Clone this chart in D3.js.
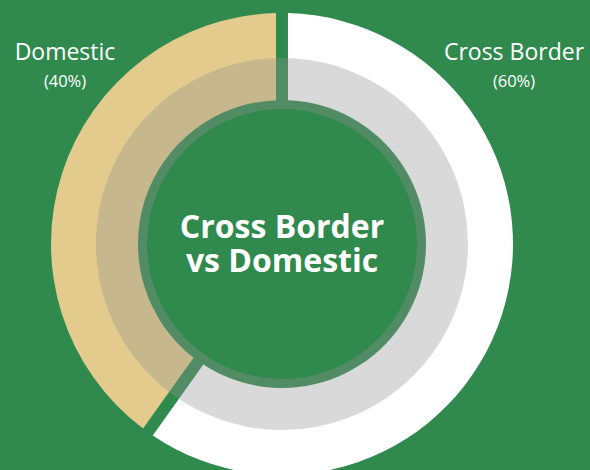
<!DOCTYPE html>
<html>
<head>
<meta charset="utf-8">
<script src="https://d3js.org/d3.v7.min.js"></script>
<style>
  body { margin: 0; background: #308a4e; font-family: "Open Sans", sans-serif; }
  .lbl { fill: white; text-anchor: middle; }
  .title { fill: white; font-weight: bold; text-anchor: middle; font-size: 32px; }
</style>
</head>
<body>
<div id="chart"></div>
<script>
// data
var categories = ["Cross Border", "Domestic"];
var shares = [60, 40];
var colors = ["#ffffff", "#e2cb8c"];
var titleLines = ["Cross Border", "vs Domestic"];

var width = 590, height = 470;
var cx = 282, cy = 244;
var outerR = 231, innerR = 144, ringR = 186, circleR = 139.5;

var svg = d3.select("#chart").append("svg")
    .attr("width", width)
    .attr("height", height);

svg.append("rect").attr("width", width).attr("height", height).attr("fill", "#308a4e");

var g = svg.append("g").attr("transform", "translate(" + cx + "," + cy + ")");

var pie = d3.pie().sort(null).padAngle(0.044);
var arc = d3.arc().innerRadius(innerR).outerRadius(outerR);

g.selectAll("path.slice")
  .data(pie(shares))
  .enter()
  .append("path")
  .attr("class", "slice")
  .attr("d", arc)
  .attr("fill", function(d, i) { return colors[i]; });

// translucent grey ring over the slices
g.append("path")
  .attr("d", d3.arc().innerRadius(innerR).outerRadius(ringR).startAngle(0).endAngle(2 * Math.PI)())
  .attr("fill", "rgb(145,145,145)")
  .attr("fill-opacity", 0.345);

// centre disc
g.append("circle")
  .attr("r", circleR)
  .attr("fill", "#308a4e")
  .attr("stroke", "rgba(145,145,145,0.345)")
  .attr("stroke-width", 9);

g.selectAll("text.title")
  .data(titleLines)
  .enter()
  .append("text")
  .attr("class", "title")
  .attr("y", function(d, i) { return -6 + i * 34; })
  .text(function(d) { return d; });

// side labels
var labelX = [514, 65];
categories.forEach(function(c, i) {
  svg.append("text").attr("class", "lbl")
     .attr("x", labelX[i]).attr("y", 60)
     .style("font-size", "23px")
     .text(c);
  svg.append("text").attr("class", "lbl")
     .attr("x", labelX[i]).attr("y", 87)
     .style("font-size", "16.5px")
     .text("(" + shares[i] + "%)");
});
</script>
</body>
</html>
